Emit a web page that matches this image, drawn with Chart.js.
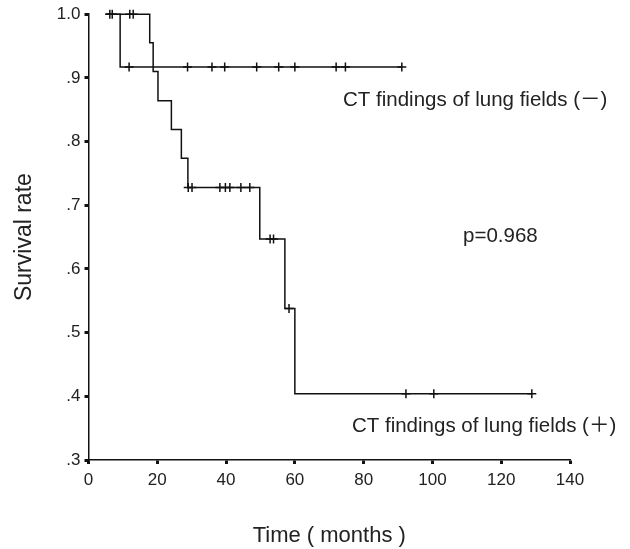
<!DOCTYPE html>
<html>
<head>
<meta charset="utf-8">
<script src="https://cdn.jsdelivr.net/npm/chart.js@4.4.1/dist/chart.umd.min.js"></script>
<style>
  html, body { margin: 0; padding: 0; background: #fff; }
  #wrap { width: 630px; height: 549px; }
</style>
</head>
<body>
<div id="wrap"><canvas id="myChart" width="630" height="549"></canvas></div>
<script>
// Kaplan-Meier steps: time (months) and survival after the drop at that time
const negTimes = [5, 9.2, 91.1];
const negSurv  = [1.0, 0.917, 0.917];
const posTimes = [5, 17.8, 18.8, 20.2, 24.1, 27.0, 28.9, 49.8, 57.1, 60.0, 128.9];
const posSurv  = [1.0, 0.955, 0.91, 0.864, 0.819, 0.774, 0.728, 0.647, 0.538, 0.404, 0.404];

// censored cases (months)
const negCensor = [6.2, 6.9, 11.8, 28.8, 35.9, 39.6, 48.9, 55.3, 60.0, 72.0, 74.7, 91.1];
const posCensor = [12.0, 13.0, 29.0, 30.1, 38.2, 39.8, 41.1, 44.3, 46.9, 52.8, 53.8, 58.3, 92.3, 100.4, 128.9];

const xTicks = [0, 20, 40, 60, 80, 100, 120, 140];
const yTicks = [0.3, 0.4, 0.5, 0.6, 0.7, 0.8, 0.9, 1.0];
const yTickLabels = ['.3', '.4', '.5', '.6', '.7', '.8', '.9', '1.0'];

const labelNeg = 'CT findings of lung fields (\uFF0D)';
const labelPos = 'CT findings of lung fields (\uFF0B)';
const labelP = 'p=0.968';

const FONT = "'Liberation Sans', Arial, 'Noto Sans CJK JP', sans-serif";

function stepAt(times, surv, t) {
    let s = surv[0];
    for (let i = 0; i < times.length; i++) {
        if (times[i] <= t) s = surv[i];
    }
    return s;
}

const toPts = (times, surv) => times.map((t, i) => ({x: t, y: surv[i]}));
const censorPts = (cens, times, surv) => cens.map(t => ({x: t, y: stepAt(times, surv, t)}));

// texts placed in data coordinates
const textPlugin = {
    id: 'texts',
    afterDatasetsDraw(chart) {
        const ctx = chart.ctx;
        const xs = chart.scales.x, ys = chart.scales.y;
        const items = [
            {text: labelNeg, x: 74.0, y: 0.856, size: 20.5},
            {text: labelPos, x: 76.6, y: 0.344, size: 20.5},
            {text: labelP, x: 108.9, y: 0.642, size: 20.5}
        ];
        ctx.save();
        ctx.fillStyle = '#222';
        ctx.textAlign = 'left';
        ctx.textBaseline = 'alphabetic';
        items.forEach(it => {
            ctx.font = it.size + 'px ' + FONT;
            ctx.fillText(it.text, xs.getPixelForValue(it.x), ys.getPixelForValue(it.y));
        });
        ctx.restore();
    }
};

const ctx = document.getElementById('myChart').getContext('2d');

const myChart = new Chart(ctx, {
    type: 'line',
    data: {
        datasets: [
            {
                data: toPts(negTimes, negSurv),
                stepped: true,
                borderColor: '#111',
                borderWidth: 1.5,
                pointRadius: 0,
                clip: false,
                fill: false
            },
            {
                data: toPts(posTimes, posSurv),
                stepped: true,
                borderColor: '#111',
                borderWidth: 1.5,
                pointRadius: 0,
                clip: false,
                fill: false
            },
            {
                data: censorPts(negCensor, negTimes, negSurv),
                showLine: false,
                pointStyle: 'cross',
                pointRadius: 4.5,
                pointBorderWidth: 1.5,
                pointBorderColor: '#111',
                clip: false
            },
            {
                data: censorPts(posCensor, posTimes, posSurv),
                showLine: false,
                pointStyle: 'cross',
                pointRadius: 4.5,
                pointBorderWidth: 1.5,
                pointBorderColor: '#111',
                clip: false
            }
        ]
    },
    options: {
        responsive: false,
        animation: false,
        layout: { padding: { top: 13, right: 60, left: 0, bottom: 0 } },
        plugins: {
            legend: { display: false },
            tooltip: { enabled: false }
        },
        scales: {
            x: {
                type: 'linear',
                min: 0,
                max: 140,
                afterBuildTicks: (s) => { s.ticks = xTicks.map(v => ({value: v})); },
                afterFit: (s) => { s.height = 89; },
                border: { color: '#111', width: 1.5 },
                grid: { drawOnChartArea: false, drawTicks: true, tickLength: 4, tickWidth: 3, tickColor: '#111' },
                ticks: { color: '#222', padding: 6, font: { family: FONT, size: 17 } },
                title: {
                    display: true,
                    text: 'Time ( months )',
                    color: '#222',
                    font: { family: FONT, size: 22 },
                    padding: { top: 0, bottom: 0 }
                }
            },
            y: {
                type: 'linear',
                min: 0.3,
                max: 1.0,
                afterBuildTicks: (s) => { s.ticks = yTicks.map(v => ({value: v})); },
                afterFit: (s) => { s.width = 88.5; },
                border: { color: '#111', width: 1.5 },
                grid: { drawOnChartArea: false, drawTicks: true, tickLength: 4, tickWidth: 3, tickColor: '#111' },
                ticks: {
                    color: '#222',
                    padding: 4,
                    font: { family: FONT, size: 17 },
                    callback: (v) => yTickLabels[yTicks.findIndex(t => Math.abs(t - v) < 1e-6)]
                },
                title: {
                    display: true,
                    text: 'Survival rate',
                    color: '#222',
                    font: { family: FONT, size: 23 },
                    padding: { top: 11, bottom: 0 }
                }
            }
        }
    },
    plugins: [textPlugin]
});
</script>
</body>
</html>
